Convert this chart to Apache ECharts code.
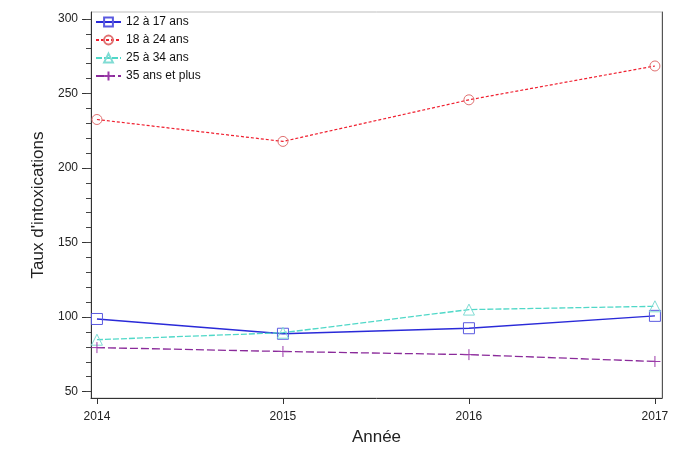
<!DOCTYPE html>
<html>
<head>
<meta charset="utf-8">
<script src="https://cdn.jsdelivr.net/npm/echarts@6/dist/echarts.min.js"></script>
<style>
  html, body { margin: 0; padding: 0; background: #fff; }
  #chart { width: 678px; height: 451px; }
</style>
</head>
<body>
<div id="chart"></div>
<script>
// Years on the horizontal axis
const years = [2014, 2015, 2016, 2017];

// Intoxication rates by age group
const age12to17 = [98.7, 88.8, 92.5, 100.8];
const age18to24 = [232.5, 217.8, 245.7, 268.4];
const age25to34 = [84.8, 89.5, 105.0, 107.2];
const age35plus = [79.5, 76.9, 74.8, 70.2];

// Tick values
const yMajorTicks = [50, 100, 150, 200, 250, 300];
const yMinorTicks = [50, 60, 70, 80, 90, 100, 110, 120, 130, 140, 150, 160, 170, 180, 190,
  200, 210, 220, 230, 240, 250, 260, 270, 280, 290, 300];

const seriesNames = ['12 à 17 ans', '18 à 24 ans', '25 à 34 ans', '35 ans et plus'];

const pairs = arr => years.map((y, i) => [y, arr[i]]);

const font = 'Liberation Sans, Arial, sans-serif';
const yMin = 45.7, yMax = 304.6;

const chart = echarts.init(document.getElementById('chart'), null, { renderer: 'canvas' });

chart.setOption({
  animation: false,
  backgroundColor: '#fff',
  textStyle: { fontFamily: font },
  grid: {
    left: 91, right: 16, top: 12, bottom: 48,
    show: true, borderColor: '#bdbdbd', borderWidth: 1, backgroundColor: 'transparent'
  },
  legend: {
    orient: 'vertical',
    left: 90, top: 11,
    itemWidth: 25, itemHeight: 11, itemGap: 6,
    textStyle: { fontSize: 12, color: '#111', fontFamily: font },
    data: seriesNames
  },
  xAxis: {
    type: 'value',
    min: 2013.968, max: 2017.038,
    name: 'Année',
    nameLocation: 'middle',
    nameGap: 31,
    nameTextStyle: { fontSize: 17, color: '#222', fontFamily: font },
    splitLine: { show: false },
    axisLine: { show: true, lineStyle: { color: '#333', width: 1 } },
    axisTick: { show: true, length: 6, lineStyle: { color: '#333' }, customValues: years },
    axisLabel: {
      fontSize: 12, color: '#222', margin: 13, fontFamily: font,
      customValues: years,
      formatter: v => String(v)
    }
  },
  yAxis: [
    {
      type: 'value',
      min: yMin, max: yMax,
      position: 'left',
      name: "Taux d'intoxications",
      nameLocation: 'middle',
      nameGap: 43,
      nameRotate: 90,
      nameTextStyle: { fontSize: 17, color: '#222', fontFamily: font },
      splitLine: { show: false },
      axisLine: { show: true, lineStyle: { color: '#333', width: 1 } },
      axisTick: { show: true, length: 9, lineStyle: { color: '#333' }, customValues: yMajorTicks },
      axisLabel: {
        fontSize: 12, color: '#222', margin: 13, fontFamily: font,
        customValues: yMajorTicks,
        formatter: v => String(v)
      }
    },
    {
      type: 'value',
      min: yMin, max: yMax,
      position: 'left',
      splitLine: { show: false },
      axisLine: { show: false },
      axisTick: { show: true, length: 5, lineStyle: { color: '#444' }, customValues: yMinorTicks },
      axisLabel: { show: false, customValues: yMinorTicks }
    },
    {
      type: 'value',
      min: yMin, max: yMax,
      position: 'right',
      splitLine: { show: false },
      axisLine: { show: true, lineStyle: { color: '#555', width: 1 } },
      axisTick: { show: false },
      axisLabel: { show: false }
    }
  ],
  series: [
    {
      name: seriesNames[0],
      type: 'line',
      data: pairs(age12to17),
      symbol: 'rect',
      symbolSize: 11,
      lineStyle: { color: '#2a2ad8', width: 1.4, type: 'solid' },
      itemStyle: { color: 'rgba(0,0,0,0)', borderColor: '#5a5ae0', borderWidth: 1 }
    },
    {
      name: seriesNames[1],
      type: 'line',
      data: pairs(age18to24),
      symbol: 'circle',
      symbolSize: 10,
      lineStyle: { color: '#f02030', width: 1.2, type: [3, 2] },
      itemStyle: { color: 'rgba(0,0,0,0)', borderColor: '#e07070', borderWidth: 1 }
    },
    {
      name: seriesNames[2],
      type: 'line',
      data: pairs(age25to34),
      symbol: 'triangle',
      symbolSize: 11,
      lineStyle: { color: '#50d8c8', width: 1.3, type: [6, 2] },
      itemStyle: { color: 'rgba(0,0,0,0)', borderColor: '#80dcd4', borderWidth: 1 }
    },
    {
      name: seriesNames[3],
      type: 'line',
      data: pairs(age35plus),
      symbol: 'path://M0,5 L10,5 M5,0 L5,10',
      symbolSize: 11,
      lineStyle: { color: '#8a2a9a', width: 1.3, type: [8, 3] },
      itemStyle: { color: 'rgba(0,0,0,0)', borderColor: '#9a3aa8', borderWidth: 1 }
    }
  ]
});
</script>
</body>
</html>
